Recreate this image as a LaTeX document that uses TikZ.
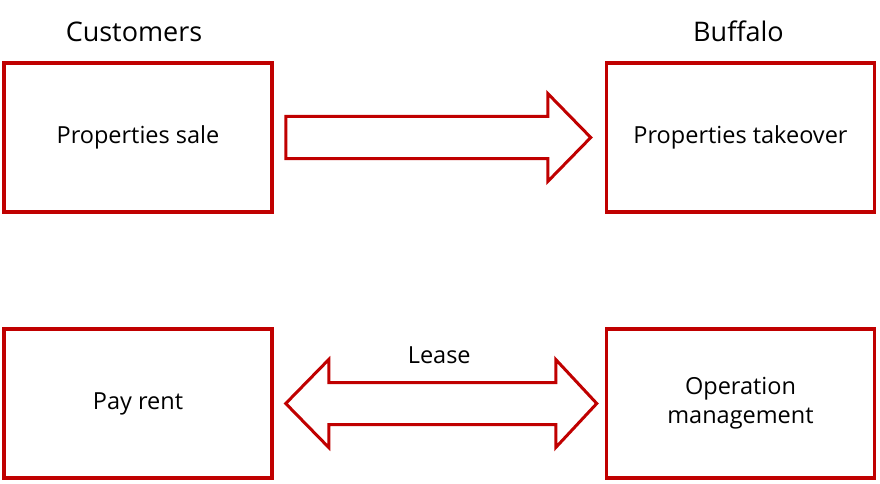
\documentclass[tikz,border=0pt]{standalone}
\usepackage{fontspec}
\setmainfont{Open Sans}
\usetikzlibrary{positioning,calc}
\definecolor{Frame}{HTML}{C00000}

\begin{document}
\begin{tikzpicture}[x=1pt,y=-1pt,font=\fontsize{23.5}{29}\selectfont,
  party/.style={draw=Frame,line width=3.5pt,minimum width=268pt,minimum height=149pt,align=center},
  title/.style={font=\fontsize{27}{32}\selectfont,anchor=base},
  blockarrow/.style={draw=Frame,line width=3pt,fill=white,line join=miter}]
  \useasboundingbox (0,0) rectangle (880,484);
  \node[party] (sale) at (138,137.5) {Properties sale};
  \node[party,right=331pt of sale] (takeover) {Properties takeover};
  \node[party,below=113.5pt of sale] (rent) {Pay rent};
  \node[party,right=331pt of rent] (oper) {Operation\\management};
  % column headings
  \node[title] (cust) at ($(sale.north)+(-4,-20)$) {Customers};
  \node[title] (buff) at ($(takeover.north)+(-2,-20)$) {Buffalo};
  % one-way transfer
  \draw[blockarrow] ($(sale.east)+(12,-21)$) -- ($(takeover.west)+(-57,-21)$) -- ++(0,-23)
    -- ($(takeover.west)+(-14,0)$) -- ($(takeover.west)+(-57,44)$) -- ++(0,-23)
    -- ($(sale.east)+(12,21)$) -- cycle;
  % lease both ways
  \draw[blockarrow] ($(rent.east)+(12,0)$) -- ($(rent.east)+(55,-44)$) -- ++(0,23)
    -- ($(oper.west)+(-49,-21)$) -- ++(0,-23) -- ($(oper.west)+(-8,0)$)
    -- ($(oper.west)+(-49,44)$) -- ++(0,-23) -- ($(rent.east)+(55,21)$) -- ++(0,23) -- cycle;
  \node (lease) at ($(rent.east)!0.5!(oper.west)+(0,-48)$) {Lease};
\end{tikzpicture}
\end{document}
